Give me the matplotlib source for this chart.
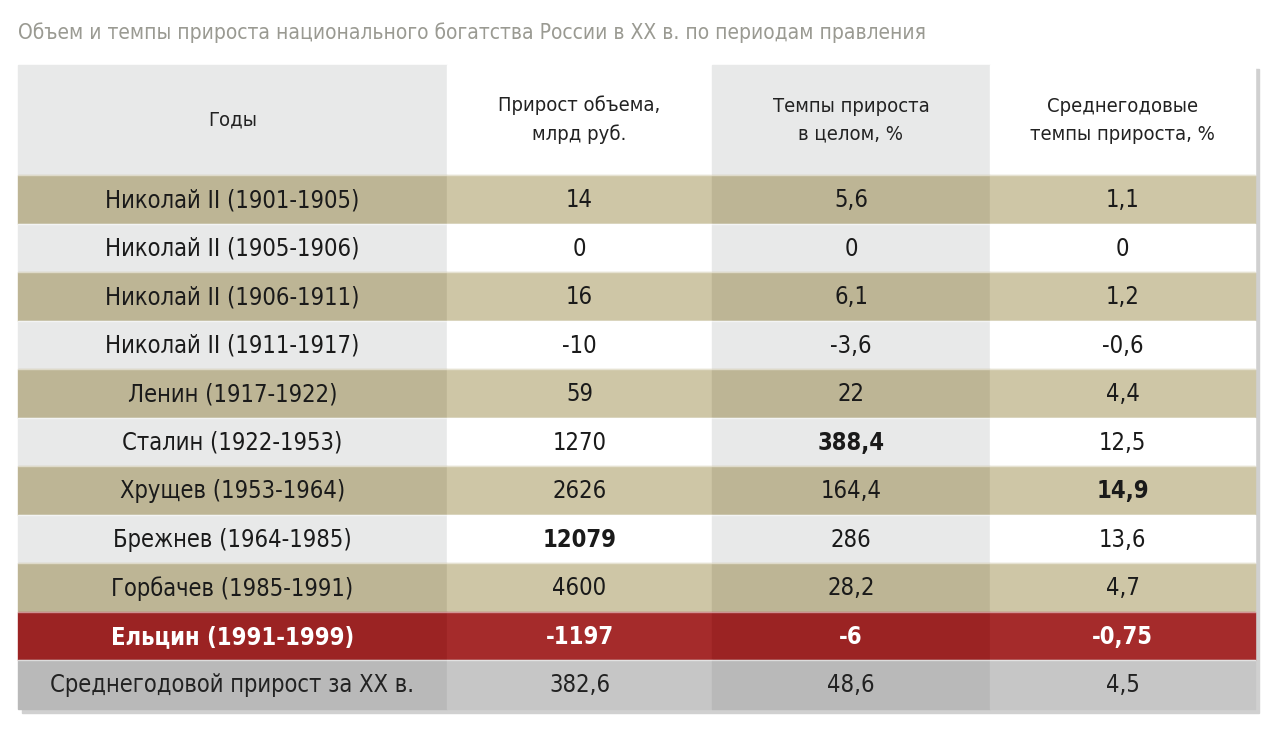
import matplotlib
matplotlib.use("Agg")
import matplotlib.pyplot as plt
from matplotlib.patches import Rectangle

title = "Объем и темпы прироста национального богатства России в XX в. по периодам правления"
headers = ["Годы", "Прирост объема,\nмлрд руб.", "Темпы прироста\nв целом, %", "Среднегодовые\nтемпы прироста, %"]
periods = ["Николай II (1901-1905)", "Николай II (1905-1906)", "Николай II (1906-1911)",
           "Николай II (1911-1917)", "Ленин (1917-1922)", "Сталин (1922-1953)",
           "Хрущев (1953-1964)", "Брежнев (1964-1985)", "Горбачев (1985-1991)",
           "Ельцин (1991-1999)", "Среднегодовой прирост за XX в."]
volume = ["14", "0", "16", "-10", "59", "1270", "2626", "12079", "4600", "-1197", "382,6"]
total_rate = ["5,6", "0", "6,1", "-3,6", "22", "388,4", "164,4", "286", "28,2", "-6", "48,6"]
annual_rate = ["1,1", "0", "1,2", "-0,6", "4,4", "12,5", "14,9", "13,6", "4,7", "-0,75", "4,5"]
bold_cells = {(7, 1), (5, 2), (6, 3)}

W, H = 1280, 730
fig = plt.figure(figsize=(W/100, H/100), dpi=100)
ax = fig.add_axes([0, 0, 1, 1])
ax.set_xlim(0, W); ax.set_ylim(H, 0); ax.axis("off")
FONT = "DejaVu Sans"
ST = "condensed"

ax.text(18, 33, title, fontsize=15, color="#9a9a92", va="center", ha="left", family=FONT, fontstretch=ST)

xs = [18, 447, 712, 990, 1255]
top, hh, rh = 65, 110, 48.5
ax.add_patch(Rectangle((22, top+4), xs[-1]-18, hh+rh*11, color="#d0d0d0", zorder=0))
hdr_col = ["#e8e9e9", "#ffffff", "#e8e9e9", "#ffffff"]
for c in range(4):
    ax.add_patch(Rectangle((xs[c], top), xs[c+1]-xs[c], hh, color=hdr_col[c], zorder=1))
    ax.text((xs[c]+xs[c+1])/2, top+hh/2, headers[c], ha="center", va="center",
            fontsize=14.5, color="#222222", family=FONT, fontstretch=ST, linespacing=1.6, zorder=3)
for r in range(11):
    y = top + hh + r*rh
    if r == 9:
        cols = ["#9b2323", "#a52b2b"]*2; tc = "white"
    elif r == 10:
        cols = ["#b9b9b9", "#c6c6c6"]*2; tc = "#222222"
    elif r % 2 == 0:
        cols = ["#bdb595", "#cec6a6"]*2; tc = "#1a1a1a"
    else:
        cols = ["#e8e9e9", "#ffffff"]*2; tc = "#1a1a1a"
    vals = [periods[r], volume[r], total_rate[r], annual_rate[r]]
    for c in range(4):
        ax.add_patch(Rectangle((xs[c], y), xs[c+1]-xs[c], rh, color=cols[c], zorder=1))
        bold = r == 9 or (r, c) in bold_cells
        ax.text((xs[c]+xs[c+1])/2, y+rh/2+1, vals[c], ha="center", va="center", fontsize=17,
                color=tc, family=FONT, fontstretch=ST,
                fontweight="bold" if bold else "normal", zorder=3)
    ax.plot([xs[0], xs[-1]], [y, y], color="white", lw=1, alpha=0.5, zorder=2)
fig.savefig("out.png", dpi=100)
